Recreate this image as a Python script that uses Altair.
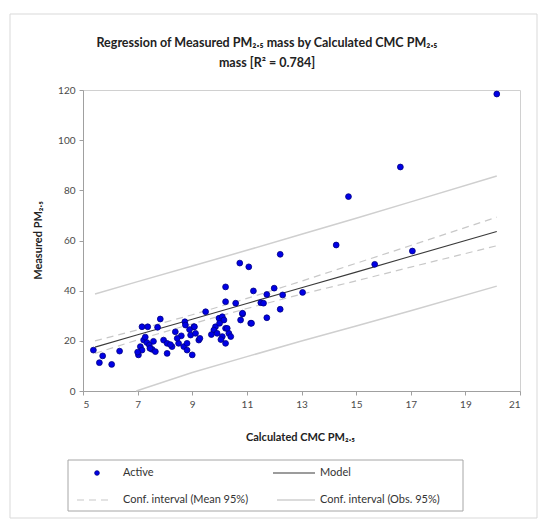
import altair as alt
import pandas as pd

# Observations (Calculated CMC PM2.5, Measured PM2.5)
calc_x = [5.38, 5.72, 5.60, 6.05, 6.34, 7.16, 7.37, 7.83, 7.73, 7.22, 7.34, 7.43, 7.10, 7.16,
          7.53, 7.03, 7.00, 7.65, 7.28, 7.45, 7.58, 7.95, 8.08, 8.38, 8.26, 8.08, 8.50, 8.69,
          8.81, 8.73, 8.75, 8.94, 9.12, 9.06, 8.81, 9.00, 9.24, 8.60, 8.45, 8.20, 8.90, 9.49,
          9.85, 9.98, 10.10, 10.16, 9.79, 9.91, 10.22, 10.34, 10.10, 10.22, 10.41, 10.00, 9.70,
          10.05, 10.22, 10.59, 10.84, 10.77, 11.14, 10.22, 10.74, 11.07, 11.24, 11.73, 12.00,
          12.31, 13.04, 11.51, 11.61, 12.22, 11.73, 11.17, 10.84, 12.22, 14.27, 14.72, 15.68,
          16.62, 17.06, 20.15, 9.08, 9.28, 10.28]
meas_y = [16.3, 14.0, 11.3, 10.6, 15.9, 25.6, 25.6, 28.7, 25.4, 20.3, 19.3, 18.3, 17.7, 16.3,
          16.6, 14.4, 15.5, 15.7, 21.5, 17.0, 19.8, 20.3, 19.0, 23.6, 17.7, 15.0, 19.0, 17.7,
          19.0, 27.6, 26.3, 22.3, 23.0, 25.6, 16.3, 14.4, 20.3, 22.0, 21.0, 18.5, 24.5, 31.6,
          25.6, 29.0, 29.6, 28.3, 24.3, 23.0, 25.0, 23.0, 21.7, 19.0, 21.7, 27.0, 22.5,
          20.5, 35.6, 35.0, 30.7, 28.3, 27.0, 41.5, 51.0, 49.5, 39.9, 38.5, 41.0,
          38.3, 39.3, 35.2, 35.0, 32.6, 29.2, 27.0, 31.0, 54.5, 58.2, 77.5, 50.5,
          89.3, 55.8, 118.4, 25.6, 21.0, 25.0]

# Model and confidence bands
fit_x = [5.44, 7, 9, 11, 13, 15, 17, 20.15]
model_y = [17.5, 22.4, 28.6, 34.9, 41.2, 47.4, 53.7, 63.6]
mean_up = [20.0, 24.4, 30.4, 36.9, 43.8, 50.9, 58.0, 69.3]
mean_lo = [15.0, 20.4, 26.8, 32.9, 38.6, 43.9, 49.4, 57.9]
obs_up = [38.7, 43.6, 49.8, 56.1, 62.5, 68.9, 75.4, 85.7]
obs_lo_x = [6.95, 9, 11, 13, 15, 17, 20.15]
obs_lo = [0.0, 7.4, 13.7, 19.9, 25.9, 32.0, 41.8]

x_ticks = [5, 7, 9, 11, 13, 15, 17, 19, 21]
y_ticks = [0, 20, 40, 60, 80, 100, 120]

title_lines = ["Regression of Measured PM\u2082.\u2085 mass by Calculated CMC PM\u2082.\u2085",
               "mass  [R\u00b2 = 0.784]"]
x_title = "Calculated CMC PM\u2082.\u2085"
y_title = "Measured PM\u2082.\u2085"
legend_labels = ["Active", "Model", "Conf. interval (Mean 95%)", "Conf. interval (Obs. 95%)"]

FONT = "Lato"

pts = pd.DataFrame({"x": calc_x, "y": meas_y})
fit = pd.DataFrame({"x": fit_x, "model": model_y, "mu": mean_up, "ml": mean_lo, "ou": obs_up})
low = pd.DataFrame({"x": obs_lo_x, "ol": obs_lo})
one = pd.DataFrame({"k": [0]})

xs = alt.Scale(domain=[5, 21], nice=False, zero=False)
ys = alt.Scale(domain=[0, 120], nice=False)
xax = alt.Axis(values=x_ticks, title=x_title, grid=False, titleX=217, titleY=40,
               titleFontSize=11, titleFontWeight="bold", titleFont=FONT, titleColor="#222")
yax = alt.Axis(values=y_ticks, title=y_title, grid=False, titleX=-45, titleY=150,
               titleAngle=270, titleAlign="center", titleBaseline="middle",
               titleFontSize=11, titleFontWeight="bold", titleFont=FONT, titleColor="#222")

X = alt.X("x:Q", scale=xs, axis=xax)
Y = alt.Y("y:Q", scale=ys, axis=yax)

frame = alt.Chart(one).mark_rect(fill="white", fillOpacity=0, stroke="#d9d9d9", strokeWidth=1).encode(
    x=alt.value(-73), x2=alt.value(454), y=alt.value(-76), y2=alt.value(428))

def band(col, color, dash=None, width=1.2, data=fit):
    kw = dict(color=color, strokeWidth=width)
    if dash:
        kw["strokeDash"] = dash
    return alt.Chart(data).mark_line(**kw).encode(
        x=alt.X("x:Q", scale=xs), y=alt.Y(f"{col}:Q", scale=ys))

l_obs_up = band("ou", "#cfcfcf", width=1.5)
l_obs_lo = band("ol", "#cfcfcf", width=1.5, data=low)
l_mu = band("mu", "#c8c8c8", dash=[7, 5], width=1.2)
l_ml = band("ml", "#c8c8c8", dash=[7, 5], width=1.2)
l_model = band("model", "#3a3a3a", width=1.1)

points = alt.Chart(pts).mark_circle(size=34, color="#0000e6", opacity=1, stroke="#000080",
                                    strokeWidth=0.8).encode(x=X, y=Y)

def txt(s, x, y, size=11, bold=False, align="left", color="#333"):
    return alt.Chart(one).mark_text(text=s, font=FONT, fontSize=size,
                                    fontWeight="bold" if bold else "normal",
                                    align=align, baseline="middle", color=color).encode(
        x=alt.value(x), y=alt.value(y))

title1 = txt(title_lines[0], 184, -47, size=12.5, bold=True, align="center", color="#222")
title2 = txt(title_lines[1], 184, -27, size=12.5, bold=True, align="center", color="#222")

leg_box = alt.Chart(one).mark_rect(fill="white", fillOpacity=0, stroke="#a6a6a6", strokeWidth=1).encode(
    x=alt.value(-15), x2=alt.value(380), y=alt.value(370), y2=alt.value(421))
leg_pt = alt.Chart(one).mark_circle(size=22, color="#0000e6", opacity=1, stroke="#000080",
                                    strokeWidth=0.8).encode(x=alt.value(14), y=alt.value(383))
leg_model = alt.Chart(one).mark_rule(color="#3a3a3a", strokeWidth=1.1).encode(
    x=alt.value(190), x2=alt.value(232), y=alt.value(383))
leg_mean = alt.Chart(one).mark_rule(color="#c8c8c8", strokeWidth=1.2, strokeDash=[7, 5]).encode(
    x=alt.value(-6), x2=alt.value(30), y=alt.value(410))
leg_obs = alt.Chart(one).mark_rule(color="#cfcfcf", strokeWidth=1.5).encode(
    x=alt.value(194), x2=alt.value(232), y=alt.value(410))
leg_t1 = txt(legend_labels[0], 40, 383)
leg_t2 = txt(legend_labels[1], 237, 383)
leg_t3 = txt(legend_labels[2], 40, 410)
leg_t4 = txt(legend_labels[3], 237, 410)

chart = alt.layer(
    frame, l_obs_up, l_obs_lo, l_mu, l_ml, l_model, points,
    title1, title2, leg_box, leg_pt, leg_model, leg_mean, leg_obs,
    leg_t1, leg_t2, leg_t3, leg_t4,
).properties(
    width=437, height=301,
    autosize=alt.AutoSizeParams(type="none"),
    padding={"left": 83, "top": 90, "right": 26, "bottom": 129},
    background="white",
).configure_view(
    stroke="#d0d0d0", strokeWidth=1
).configure_axis(
    domainColor="#a0a0a0", tickColor="#a0a0a0", tickSize=4, labelPadding=4,
    labelFont=FONT, labelFontSize=10, labelColor="#4a4a4a",
)

chart.save("out.html", embed_options={"renderer": "svg", "actions": False})
